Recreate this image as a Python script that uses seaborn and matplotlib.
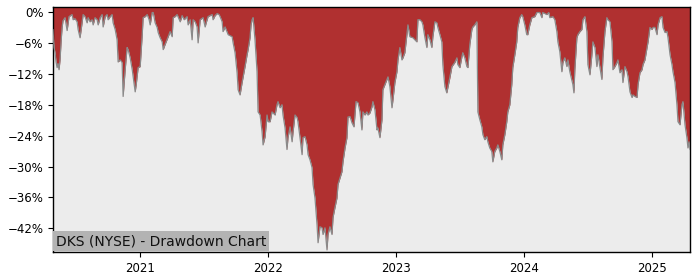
import numpy as np
import pandas as pd
import matplotlib
matplotlib.use("Agg")
import matplotlib.pyplot as plt
import matplotlib.dates as mdates
from matplotlib.ticker import FuncFormatter
import seaborn as sns

# Time in decimal years
years = [
    2020.320, 2020.328, 2020.336, 2020.344, 2020.352, 2020.359, 2020.367, 2020.375, 2020.383, 2020.391,
    2020.398, 2020.414, 2020.430, 2020.445, 2020.469, 2020.477, 2020.492, 2020.508, 2020.516, 2020.531,
    2020.547, 2020.555, 2020.570, 2020.586, 2020.594, 2020.609, 2020.625, 2020.633, 2020.648, 2020.664,
    2020.672, 2020.688, 2020.703, 2020.711, 2020.727, 2020.742, 2020.750, 2020.766, 2020.781, 2020.789,
    2020.805, 2020.820, 2020.828, 2020.844, 2020.859, 2020.867, 2020.883, 2020.898, 2020.906, 2020.922,
    2020.938, 2020.953, 2020.961, 2020.969, 2020.984,
    2021.000, 2021.016, 2021.023, 2021.039, 2021.055, 2021.070, 2021.078, 2021.094, 2021.102, 2021.117,
    2021.133, 2021.141, 2021.156, 2021.172, 2021.180, 2021.195, 2021.219, 2021.234, 2021.250, 2021.258,
    2021.273, 2021.289, 2021.313, 2021.328, 2021.344, 2021.367, 2021.375, 2021.391, 2021.406, 2021.414,
    2021.430, 2021.445, 2021.453, 2021.469, 2021.492, 2021.508, 2021.516, 2021.531, 2021.547, 2021.563,
    2021.570, 2021.586, 2021.602, 2021.617, 2021.625, 2021.641, 2021.648, 2021.664, 2021.688, 2021.703,
    2021.719, 2021.727, 2021.742, 2021.758, 2021.766, 2021.781, 2021.797, 2021.820, 2021.836, 2021.844,
    2021.859, 2021.867, 2021.875, 2021.883, 2021.898, 2021.914, 2021.922, 2021.938, 2021.953, 2021.961,
    2021.977, 2021.992,
    2022.000, 2022.016, 2022.031, 2022.055, 2022.070, 2022.078, 2022.094, 2022.109, 2022.117, 2022.133,
    2022.148, 2022.156, 2022.172, 2022.188, 2022.195, 2022.211, 2022.227, 2022.234, 2022.250, 2022.266,
    2022.273, 2022.289, 2022.305, 2022.313, 2022.328, 2022.344, 2022.352, 2022.367, 2022.383, 2022.391,
    2022.406, 2022.422, 2022.430, 2022.445, 2022.461, 2022.469, 2022.484, 2022.500, 2022.508, 2022.523,
    2022.539, 2022.547, 2022.563, 2022.578, 2022.586, 2022.602, 2022.617, 2022.625, 2022.641, 2022.656,
    2022.672, 2022.688, 2022.703, 2022.719, 2022.734, 2022.742, 2022.758, 2022.773, 2022.781, 2022.797,
    2022.813, 2022.820, 2022.836, 2022.852, 2022.859, 2022.875, 2022.891, 2022.898, 2022.914, 2022.938,
    2022.953, 2022.969, 2022.977, 2022.992,
    2023.008, 2023.016, 2023.031, 2023.047, 2023.055, 2023.070, 2023.086, 2023.094, 2023.109, 2023.133,
    2023.148, 2023.164, 2023.172, 2023.188, 2023.203, 2023.211, 2023.227, 2023.242, 2023.250, 2023.266,
    2023.281, 2023.289, 2023.305, 2023.320, 2023.328, 2023.344, 2023.359, 2023.367, 2023.383, 2023.398,
    2023.406, 2023.422, 2023.438, 2023.461, 2023.477, 2023.484, 2023.500, 2023.516, 2023.523, 2023.539,
    2023.555, 2023.563, 2023.578, 2023.594, 2023.602, 2023.617, 2023.633, 2023.641, 2023.656, 2023.672,
    2023.680, 2023.695, 2023.711, 2023.719, 2023.734, 2023.750, 2023.758, 2023.773, 2023.789, 2023.797,
    2023.813, 2023.828, 2023.836, 2023.852, 2023.867, 2023.875, 2023.891, 2023.906, 2023.914, 2023.930,
    2023.945, 2023.953, 2023.969, 2023.984, 2023.992,
    2024.008, 2024.023, 2024.031, 2024.047, 2024.063, 2024.086, 2024.102, 2024.125, 2024.141, 2024.148,
    2024.180, 2024.195, 2024.203, 2024.227, 2024.242, 2024.258, 2024.266, 2024.281, 2024.297, 2024.305,
    2024.320, 2024.336, 2024.344, 2024.359, 2024.383, 2024.391, 2024.398, 2024.414, 2024.422, 2024.438,
    2024.453, 2024.461, 2024.477, 2024.492, 2024.500, 2024.516, 2024.531, 2024.539, 2024.555, 2024.570,
    2024.578, 2024.594, 2024.609, 2024.617, 2024.633, 2024.648, 2024.656, 2024.672, 2024.688, 2024.695,
    2024.711, 2024.727, 2024.734, 2024.750, 2024.766, 2024.773, 2024.789, 2024.805, 2024.813, 2024.828,
    2024.844, 2024.852, 2024.867, 2024.883, 2024.891, 2024.906, 2024.922, 2024.930, 2024.945, 2024.961,
    2024.969, 2024.984,
    2025.000, 2025.008, 2025.023, 2025.039, 2025.047, 2025.063, 2025.078, 2025.086, 2025.102, 2025.117,
    2025.125, 2025.141, 2025.156, 2025.164, 2025.180, 2025.195, 2025.203, 2025.219, 2025.234, 2025.242,
    2025.258, 2025.273, 2025.281, 2025.289, 2025.297,
]

# Drawdown in percent
drawdown = [
    -3.4, -6.9, -7.9, -9.7, -10.8, -10.0, -11.2, -9.3, -5.8, -3.0,
    -1.7, -1.1, -3.6, -0.9, -0.5, -1.5, -1.3, -1.9, -3.4, -5.0,
    -2.1, -0.5, -0.9, -2.1, -1.1, -1.9, -1.5, -2.5, -1.1, -1.5,
    -2.5, -1.1, -0.5, -2.9, -0.9, -0.5, -1.5, -0.9, -0.5, -2.1,
    -3.4, -5.4, -9.7, -9.3, -9.8, -16.4, -11.2, -6.9, -7.3, -8.9,
    -11.2, -14.1, -15.5, -14.1, -10.8,
    -10.6, -4.4, -1.1, -0.9, -0.5, -1.5, -2.5, -0.1, -0.1, -2.1,
    -3.0, -4.0, -5.0, -5.8, -7.3, -6.3, -4.8, -3.8, -4.8, -1.1,
    -0.9, -0.5, -1.9, -0.7, -1.5, -0.9, -2.5, -1.5, -5.4, -1.5,
    -1.9, -2.9, -6.0, -1.5, -1.1, -2.9, -2.1, -0.9, -0.7, -0.5,
    -1.5, -0.7, -0.3, -0.5, -0.9, -1.9, -3.8, -2.9, -4.4, -4.6,
    -4.8, -6.0, -7.9, -11.8, -15.1, -16.1, -13.7, -10.6, -8.3, -7.3,
    -5.0, -2.5, -1.5, -1.1, -5.4, -11.6, -19.4, -20.0, -23.2, -25.8,
    -24.2, -20.0,
    -21.3, -21.3, -19.4, -20.0, -18.0, -17.4, -18.6, -18.0, -20.0, -22.5,
    -26.7, -24.4, -22.3, -25.2, -23.4, -20.0, -20.5, -21.3, -24.4, -27.7,
    -24.4, -24.2, -25.8, -27.7, -28.7, -30.2, -33.5, -36.1, -41.3, -44.8,
    -41.7, -41.9, -43.2, -41.9, -46.2, -43.2, -41.7, -43.2, -39.9, -38.0,
    -36.1, -33.5, -32.2, -31.0, -29.1, -26.4, -24.4, -20.4, -20.3, -21.5,
    -22.3, -17.4, -17.6, -19.4, -22.9, -19.4, -20.0, -19.4, -20.0, -19.6,
    -18.4, -17.4, -19.0, -22.9, -22.5, -24.4, -20.9, -15.1, -14.1, -12.6,
    -14.5, -18.6, -17.0, -13.7,
    -11.6, -9.3, -6.9, -9.3, -8.9, -7.9, -4.4, -2.5, -4.8, -5.0,
    -5.4, -5.8, -1.5, -1.5, -1.9, -2.5, -5.0, -6.9, -4.4, -5.4,
    -6.9, -4.8, -1.9, -2.1, -3.0, -4.4, -5.8, -10.2, -14.5, -15.7,
    -14.7, -12.8, -10.6, -9.8, -8.9, -10.2, -10.8, -8.7, -7.9, -8.9,
    -10.6, -10.8, -6.3, -3.4, -2.9, -2.5, -1.9, -19.4, -20.9, -22.3,
    -23.8, -24.8, -24.2, -25.2, -26.4, -27.1, -29.1, -27.1, -26.4, -25.8,
    -27.1, -28.7, -25.8, -23.8, -21.3, -19.4, -18.0, -14.1, -10.8, -8.3,
    -5.8, -3.0, -1.1, -0.5, -0.9,
    -2.5, -4.4, -4.4, -2.5, -1.1, -0.9, -0.1, -0.1, -1.1, -0.1,
    -0.5, -0.1, -1.1, -0.9, -1.5, -3.8, -5.8, -7.7, -11.6, -9.8,
    -8.9, -10.6, -9.3, -11.6, -14.1, -15.7, -11.2, -5.0, -4.4, -3.8,
    -3.4, -1.5, -0.9, -3.8, -10.2, -12.2, -8.3, -5.8, -6.9, -10.6,
    -8.3, -10.8, -13.1, -8.9, -3.8, -1.1, -1.5, -1.9, -5.8, -11.2,
    -10.6, -9.8, -9.3, -11.8, -11.2, -13.7, -10.6, -11.6, -12.6, -15.5,
    -16.6, -16.1, -16.4, -16.6, -14.1, -11.8, -11.2, -10.2, -9.3, -6.9,
    -5.8, -3.0,
    -3.4, -3.0, -3.0, -4.4, -2.5, -1.1, -0.9, -3.0, -4.0, -3.8,
    -5.0, -8.3, -10.2, -11.6, -13.7, -18.0, -21.3, -21.9, -18.0, -17.4,
    -21.9, -24.4, -26.4, -25.2, -26.7,
]

y_ticks = [-42, -36, -30, -24, -18, -12, -6, 0]
title = "DKS (NYSE) - Drawdown Chart"


def decimal_year_to_date(t):
    y = int(np.floor(t))
    start = pd.Timestamp(year=y, month=1, day=1)
    end = pd.Timestamp(year=y + 1, month=1, day=1)
    return start + (t - y) * (end - start)


df = pd.DataFrame({
    "date": [decimal_year_to_date(t) for t in years],
    "drawdown": drawdown,
})

sns.set_style("ticks")
plt.rcParams["font.family"] = ["DejaVu Sans"]

fig = plt.figure(figsize=(7.0, 2.8), dpi=100)
ax = fig.add_axes([0.0757, 0.1, 0.91, 0.875])
ax.set_facecolor("#ececec")

top = 0.97
ax.fill_between(df["date"], df["drawdown"], top, color="#b03030", linewidth=0, zorder=2)
sns.lineplot(data=df, x="date", y="drawdown", ax=ax, color="#8a8a8a", linewidth=0.9, zorder=3)

ax.set_xlim(df["date"].iloc[0], df["date"].iloc[-1])
ax.set_ylim(-46.6, top)
ax.set_yticks(y_ticks)
ax.yaxis.set_major_formatter(FuncFormatter(lambda v, p: f"{v:.0f}%".replace("-", "\u2212")))
ax.xaxis.set_major_locator(mdates.YearLocator())
ax.xaxis.set_major_formatter(mdates.DateFormatter("%Y"))
ax.tick_params(axis="both", labelsize=8.5, length=3.5, width=0.8, colors="black", direction="out")
ax.set_xlabel("")
ax.set_ylabel("")
for s in ax.spines.values():
    s.set_visible(True)
    s.set_color("black")
    s.set_linewidth(1.0)

ax.annotate(title, xy=(0, 0), xycoords="axes fraction", xytext=(2.2, 2.6),
            textcoords="offset points", ha="left", va="bottom", fontsize=10,
            color="#111111",
            bbox=dict(boxstyle="square,pad=0.22", facecolor="#b3b3b3", edgecolor="none"),
            zorder=5)

fig.savefig("out.png", dpi=100)
